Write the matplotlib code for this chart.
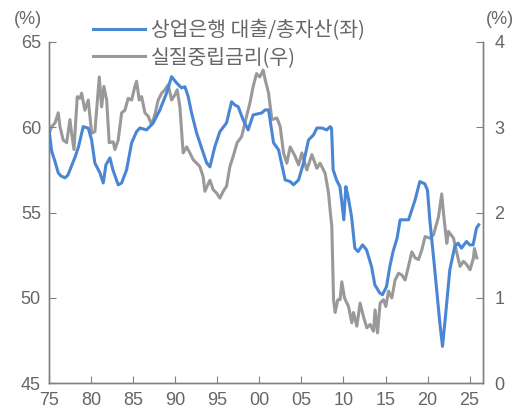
import matplotlib
matplotlib.use("Agg")
import matplotlib.pyplot as plt
from matplotlib.lines import Line2D

plt.rcParams['font.family'] = ['Noto Sans CJK KR', 'DejaVu Sans']

# 상업은행 대출/총자산 (left axis, %)
loan_years = [1975.00, 1975.29, 1975.68, 1976.07, 1976.39, 1976.87, 1977.22, 1977.62,
              1978.10, 1978.50, 1979.04, 1979.64, 1980.04, 1980.43, 1981.03, 1981.42,
              1981.74, 1982.22, 1982.57, 1983.20, 1983.61, 1984.20, 1984.80, 1985.39,
              1985.78, 1986.58, 1987.37, 1988.16, 1988.96, 1989.55, 1990.15, 1990.74,
              1991.14, 1991.53, 1991.93, 1992.53, 1993.12, 1993.72, 1994.11, 1994.70,
              1995.30, 1996.09, 1996.69, 1997.08, 1997.47, 1998.07, 1998.66, 1999.26,
              2000.26, 2000.68, 2001.09, 2001.68, 2002.28, 2003.06, 2003.66, 2004.06,
              2004.66, 2005.25, 2005.84, 2006.44, 2006.83, 2007.43, 2008.02, 2008.41,
              2008.58, 2008.77, 2009.17, 2009.57, 2009.77, 2010.04, 2010.28, 2010.55,
              2010.96, 2011.35, 2011.74, 2012.27, 2012.74, 2013.34, 2013.73, 2014.32,
              2014.64, 2015.12, 2015.51, 2015.90, 2016.38, 2016.74, 2017.33, 2017.74,
              2018.13, 2018.52, 2019.08, 2019.67, 2019.99, 2020.27, 2020.86, 2021.46,
              2021.78, 2022.13, 2022.65, 2023.24, 2023.63, 2024.04, 2024.63, 2025.02,
              2025.42, 2025.82, 2026.09]
loan_ratio = [59.75, 58.6, 58.0, 57.33, 57.15, 57.04, 57.2, 57.7,
              58.3, 58.9, 60.04, 59.95, 59.26, 57.90, 57.33, 56.74,
              57.80, 58.21, 57.51, 56.63, 56.74, 57.51, 59.09, 59.75,
              59.96, 59.85, 60.26, 61.02, 62.01, 62.97, 62.60, 62.31,
              62.38, 61.80, 60.84, 59.67, 58.79, 57.92, 57.68, 58.87,
              59.75, 60.26, 61.50, 61.31, 61.21, 60.43, 59.85, 60.73,
              60.84, 61.02, 61.02, 59.09, 58.68, 56.92, 56.82, 56.63,
              56.92, 57.92, 59.26, 59.56, 59.96, 59.96, 59.85, 60.04,
              59.95, 57.51, 56.92, 56.53, 55.75, 54.58, 56.53, 55.94,
              54.77, 52.92, 52.72, 53.11, 52.82, 51.84, 50.77, 50.29,
              50.19, 50.67, 51.84, 52.72, 53.51, 54.58, 54.58, 54.58,
              55.16, 55.75, 56.82, 56.69, 56.33, 54.58, 51.65, 48.55,
              47.16, 48.92, 51.65, 53.02, 53.21, 52.92, 53.31, 53.11,
              53.11, 54.09, 54.29]

# 실질중립금리 (right axis, %)
rate_years = [1975.00, 1975.29, 1975.68, 1976.07, 1976.27, 1976.66, 1977.07, 1977.46,
              1977.66, 1977.94, 1978.33, 1978.65, 1978.85, 1979.24, 1979.64, 1980.04,
              1980.43, 1980.95, 1981.23, 1981.50, 1981.83, 1982.13, 1982.61, 1982.81,
              1983.20, 1983.61, 1984.00, 1984.39, 1984.80, 1985.19, 1985.39, 1985.70,
              1985.99, 1986.38, 1986.77, 1987.18, 1987.57, 1987.96, 1988.37, 1988.76,
              1989.15, 1989.55, 1989.94, 1990.22, 1990.54, 1990.93, 1991.34, 1991.73,
              1992.12, 1992.53, 1992.92, 1993.31, 1993.51, 1994.11, 1994.50, 1994.90,
              1995.30, 1995.69, 1996.09, 1996.49, 1996.88, 1997.35, 1997.88, 1998.47,
              1998.86, 1999.26, 1999.66, 2000.05, 2000.45, 2000.68, 2001.09, 2001.48,
              2002.08, 2002.47, 2002.87, 2003.26, 2003.66, 2004.25, 2004.66, 2005.05,
              2005.64, 2006.24, 2006.83, 2007.22, 2007.82, 2008.22, 2008.41, 2008.61,
              2008.82, 2009.01, 2009.33, 2009.60, 2009.80, 2010.12, 2010.60, 2010.99,
              2011.19, 2011.59, 2011.98, 2012.38, 2012.78, 2013.17, 2013.57, 2013.76,
              2014.05, 2014.36, 2014.76, 2015.04, 2015.36, 2015.75, 2016.14, 2016.55,
              2016.94, 2017.33, 2017.73, 2018.13, 2018.52, 2018.92, 2019.31, 2019.71,
              2020.30, 2020.71, 2021.30, 2021.69, 2021.89, 2022.29, 2022.49, 2023.09,
              2023.48, 2023.87, 2024.27, 2024.67, 2025.06, 2025.46, 2025.58, 2025.86]
neutral_rate = [2.93, 3.01, 3.05, 3.17, 3.01, 2.85, 2.82, 3.09,
                2.93, 2.74, 3.36, 3.34, 3.40, 3.20, 3.32, 2.93,
                2.95, 3.59, 3.24, 3.48, 3.32, 2.82, 2.83, 2.74,
                2.85, 3.17, 3.20, 3.34, 3.32, 3.48, 3.54, 3.32,
                3.36, 3.17, 3.13, 3.03, 3.15, 3.32, 3.40, 3.44,
                3.50, 3.32, 3.38, 3.44, 3.24, 2.70, 2.77, 2.70,
                2.62, 2.58, 2.54, 2.42, 2.25, 2.38, 2.27, 2.23,
                2.17, 2.25, 2.31, 2.54, 2.66, 2.82, 2.89, 3.13,
                3.28, 3.48, 3.63, 3.59, 3.67, 3.56, 3.40, 3.09,
                3.11, 3.01, 2.70, 2.58, 2.77, 2.66, 2.56, 2.70,
                2.50, 2.68, 2.52, 2.58, 2.46, 2.23, 2.03, 1.84,
                0.98, 0.83, 0.98, 0.98, 1.19, 1.00, 0.90, 0.71,
                0.83, 0.67, 0.94, 0.78, 0.65, 0.69, 0.61, 0.86,
                0.59, 0.94, 0.98, 0.90, 1.08, 1.00, 1.21, 1.29,
                1.27, 1.21, 1.37, 1.54, 1.47, 1.45, 1.56, 1.72,
                1.70, 1.74, 1.95, 2.22, 2.00, 1.64, 1.78, 1.70,
                1.53, 1.37, 1.43, 1.39, 1.33, 1.47, 1.58, 1.47]

x_ticks = [1975, 1980, 1985, 1990, 1995, 2000, 2005, 2010, 2015, 2020, 2025]
x_tick_labels = ['75', '80', '85', '90', '95', '00', '05', '10', '15', '20', '25']
left_ticks = [45, 50, 55, 60, 65]
right_ticks = [0, 1, 2, 3, 4]
legend_labels = ['상업은행 대출/총자산(좌)', '실질중립금리(우)']

BLUE = '#4a86d4'
GRAY = '#999999'
AXIS = '#808080'
TEXT = '#666666'

fig = plt.figure(figsize=(5.24, 4.15), dpi=100)
ax = fig.add_axes([0.094, 0.0764, 0.8278, 0.8224])
ax2 = ax.twinx()

ax.plot(loan_years, loan_ratio, color=BLUE, lw=2.2, zorder=3)
ax2.plot(rate_years, neutral_rate, color=GRAY, lw=2.2, zorder=2)
ax.set_zorder(ax2.get_zorder() + 1)
ax.patch.set_visible(False)

ax.set_xlim(1975, 2026.6)
ax.set_ylim(45, 65)
ax2.set_ylim(0, 4)

ax.set_xticks(x_ticks)
ax.set_xticklabels(x_tick_labels)
ax.set_yticks(left_ticks)
ax2.set_yticks(right_ticks)

for a in (ax, ax2):
    for s in a.spines.values():
        s.set_color(AXIS)
        s.set_linewidth(1.0)
    a.spines['top'].set_visible(False)

ax.tick_params(axis='x', direction='in', length=5, color=AXIS, labelcolor=TEXT,
               labelsize=13, pad=6)
ax.tick_params(axis='y', direction='in', length=5, color=AXIS, labelcolor=TEXT,
               labelsize=13, pad=6)
ax2.tick_params(axis='y', direction='in', length=5, color=AXIS, labelcolor=TEXT,
                labelsize=13, pad=8)
for lab in ax.get_xticklabels() + ax.get_yticklabels() + ax2.get_yticklabels():
    lab.set_family(['Liberation Sans', 'DejaVu Sans'])

fig.text(0.0525, 0.952, '(%)', color=TEXT, fontsize=13, ha='center', va='center',
         family=['Liberation Sans', 'DejaVu Sans'])
fig.text(0.955, 0.952, '(%)', color=TEXT, fontsize=13, ha='center', va='center',
         family=['Liberation Sans', 'DejaVu Sans'])

handles = [Line2D([], [], color=BLUE, lw=2.2), Line2D([], [], color=GRAY, lw=2.2)]
leg = fig.legend(handles, legend_labels, loc='upper left',
                 bbox_to_anchor=(0.1775, 0.951), frameon=False, fontsize=14.7,
                 borderpad=0, borderaxespad=0,
                 handlelength=2.55, handletextpad=0.3, labelspacing=0.26,
                 labelcolor=TEXT)

fig.savefig('out.png', dpi=100)
